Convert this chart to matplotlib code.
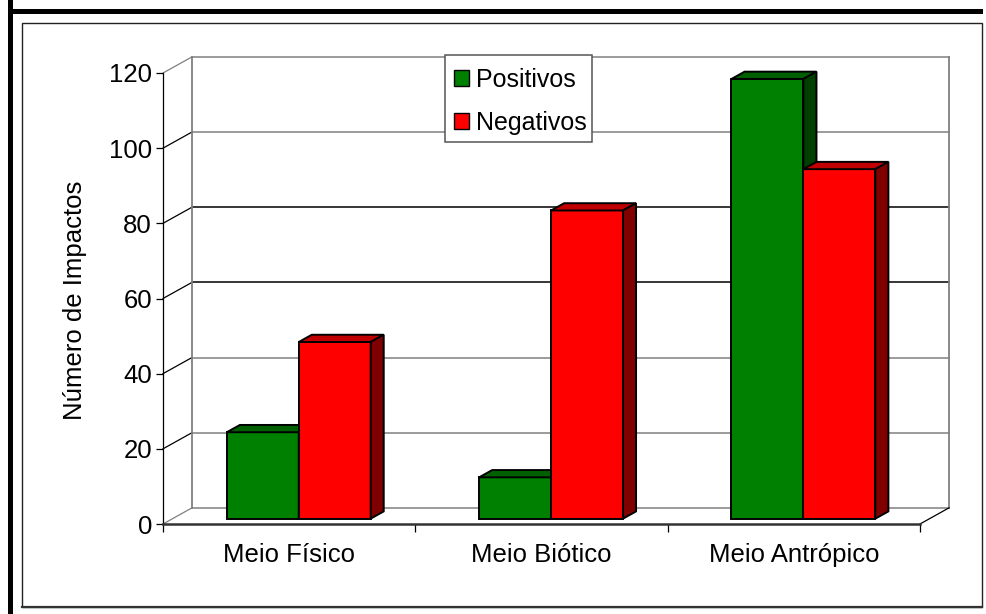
import matplotlib
matplotlib.use("Agg")
import matplotlib.pyplot as plt
from matplotlib.patches import Polygon, Rectangle, Patch
from matplotlib.lines import Line2D

plt.rcParams["font.family"] = ["Liberation Sans", "DejaVu Sans"]

CATEGORIES = ["Meio Físico", "Meio Biótico", "Meio Antrópico"]
SERIES = ["Positivos", "Negativos"]
POSITIVOS = [23, 11, 117]
NEGATIVOS = [47, 82, 93]
Y_TICKS = [0, 20, 40, 60, 80, 100, 120]

FRONT = {"Positivos": "#008000", "Negativos": "#ff0000"}
TOP = {"Positivos": "#006000", "Negativos": "#c00000"}
SIDE = {"Positivos": "#004000", "Negativos": "#800000"}

W, H = 986, 614
GRID_GRAY = "#808080"
FS = 18.5

# oblique depth of the 3d box, in data units (x: categories, y: counts)
DEPTH_X = 0.115
DEPTH_Y = 4.3
BAR_W = 0.285
BAR_F0, BAR_F1 = 0.33, 0.78


def fx(px):
    return px / W


def fy(py):
    return 1 - py / H


fig = plt.figure(figsize=(W / 100, H / 100), dpi=100)
fig.patch.set_facecolor("white")

# frame of the chart area
fig.patches.append(Rectangle((fx(8), fy(614)), fx(5), 1, transform=fig.transFigure,
                             facecolor="black", edgecolor="none"))
fig.patches.append(Rectangle((fx(8), fy(14)), fx(975), 5 / H, transform=fig.transFigure,
                             facecolor="black", edgecolor="none"))
fig.patches.append(Rectangle((fx(22), fy(607)), fx(960), (607 - 23) / H,
                             transform=fig.transFigure, facecolor="none",
                             edgecolor="#222222", linewidth=1.0))
fig.lines.append(Line2D([fx(22), fx(982)], [fy(606.5), fy(606.5)], transform=fig.transFigure,
                        color="#333333", linewidth=1.6))

ax = fig.add_axes([fx(163), fy(524), fx(920 - 163), (524 - 73) / H])
ax.set_xlim(-0.5, 2.5)
ax.set_ylim(0, 120)
ax.patch.set_alpha(0)
for s in ("top", "right"):
    ax.spines[s].set_visible(False)
ax.spines["left"].set_color("black")
ax.spines["left"].set_linewidth(0.9)
ax.spines["bottom"].set_color("#333333")
ax.spines["bottom"].set_linewidth(1.8)
ax.spines["left"].set_zorder(6)
ax.spines["bottom"].set_zorder(6)

ax.set_yticks(Y_TICKS)
ax.set_yticklabels([str(t) for t in Y_TICKS])
ax.tick_params(axis="y", direction="out", length=5, width=0.9, labelsize=FS, pad=3)
ax.set_xticks([-0.5, 0.5, 1.5, 2.5])
ax.set_xticklabels([])
ax.set_xticks(range(len(CATEGORIES)), minor=True)
ax.set_xticklabels(CATEGORIES, minor=True)
ax.tick_params(axis="x", which="major", direction="out", length=6, width=0.9)
ax.tick_params(axis="x", which="minor", length=0, labelsize=FS, pad=14)

x0, x1 = -0.5, 2.5
bx0, bx1 = x0 + DEPTH_X, x1 + DEPTH_X

# back wall gridlines and left wall diagonals
for t in Y_TICKS:
    col = "black" if t in (60, 80) else GRID_GRAY
    ax.plot([bx0, bx1], [t + DEPTH_Y, t + DEPTH_Y], color=col, lw=1.1,
            clip_on=False, zorder=1)
    dcol = GRID_GRAY if t in (0, 120) else "black"
    ax.plot([x0, bx0], [t, t + DEPTH_Y], color=dcol, lw=0.9, clip_on=False, zorder=1)

ax.plot([bx0, bx0], [DEPTH_Y, 120 + DEPTH_Y], color=GRID_GRAY, lw=1.3, clip_on=False, zorder=1)
ax.plot([bx1, bx1], [DEPTH_Y, 120 + DEPTH_Y], color=GRID_GRAY, lw=1.3, clip_on=False, zorder=1)
ax.plot([x1, bx1], [0, DEPTH_Y], color="black", lw=0.9, clip_on=False, zorder=1)


def draw_bar(left, value, name, z):
    dx0, dy0 = BAR_F0 * DEPTH_X, BAR_F0 * DEPTH_Y
    ddx, ddy = (BAR_F1 - BAR_F0) * DEPTH_X, (BAR_F1 - BAR_F0) * DEPTH_Y
    l, r = left + dx0, left + BAR_W + dx0
    b, t = dy0, value + dy0
    kw = dict(edgecolor="black", linewidth=1.4, joinstyle="miter", clip_on=False, zorder=z)
    ax.add_patch(Polygon([(l, b), (r, b), (r, t), (l, t)], closed=True,
                         facecolor=FRONT[name], **kw))
    ax.add_patch(Polygon([(l, t), (r, t), (r + ddx, t + ddy), (l + ddx, t + ddy)],
                         closed=True, facecolor=TOP[name], **kw))
    ax.add_patch(Polygon([(r, b), (r + ddx, b + ddy), (r + ddx, t + ddy), (r, t)],
                         closed=True, facecolor=SIDE[name], **kw))


for i in range(len(CATEGORIES)):
    draw_bar(i - BAR_W, POSITIVOS[i], "Positivos", 3 + i * 2)
    draw_bar(i, NEGATIVOS[i], "Negativos", 4 + i * 2)

ax.text(fx(75), fy(300), "Número de Impactos", transform=fig.transFigure,
        rotation=90, ha="center", va="center", fontsize=FS)

# legend box drawn separately so its padding can differ per side
ax.add_patch(Rectangle((fx(445), fy(142)), fx(592 - 445), (142 - 55) / H,
                       transform=fig.transFigure, facecolor="white", edgecolor="#555555",
                       linewidth=1.1, clip_on=False, zorder=19))
handles = [Patch(facecolor=FRONT[s], edgecolor="black", linewidth=1.0) for s in SERIES]
leg = ax.legend(handles, SERIES, loc="upper left", bbox_to_anchor=(fx(445), fy(59)),
                bbox_transform=fig.transFigure, borderaxespad=0, frameon=False,
                fontsize=18, handlelength=0.6, handleheight=0.6, handletextpad=0.3,
                borderpad=0.36, labelspacing=0.75)
leg.set_zorder(20)

fig.savefig("out.png", dpi=100, facecolor="white")
